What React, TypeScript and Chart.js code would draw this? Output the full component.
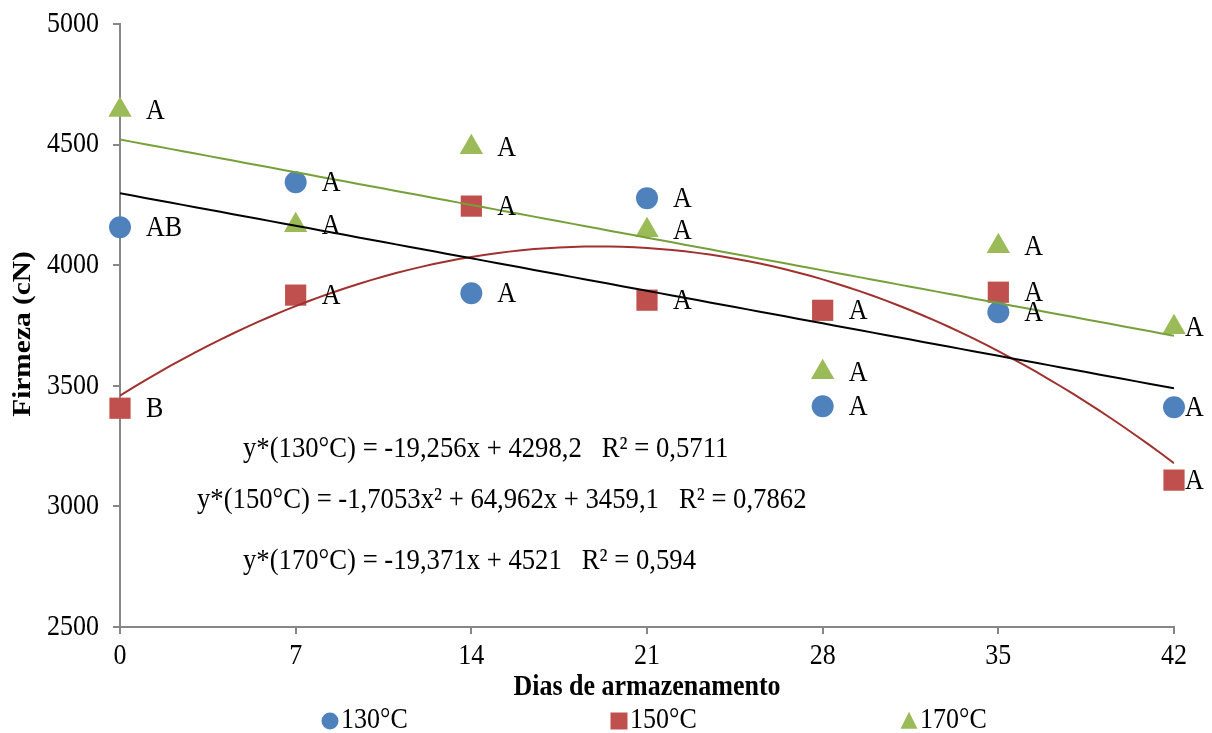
import React, { useEffect, useRef } from "react";
import { Chart, registerables } from "chart.js";

Chart.register(...registerables);

const days = [0, 7, 14, 21, 28, 35, 42];
const firm130 = [4157, 4344, 3884, 4278, 3415, 3805, 3411];
const firm150 = [3407, 3876, 4245, 3855, 3813, 3888, 3109];
const firm170 = [4643, 4166, 4489, 4145, 3556, 4079, 3743];
const letters130 = ["AB", "A", "A", "A", "A", "A", "A"];
const letters150 = ["B", "A", "A", "A", "A", "A", "A"];
const letters170 = ["A", "A", "A", "A", "A", "A", "A"];
const seriesNames = ["130°C", "150°C", "170°C"];
// trendline coefficients [c0, c1, c2]
const trend130 = [4298.2, -19.256, 0];
const trend150 = [3459.1, 64.962, -1.7053];
const trend170 = [4521, -19.371, 0];
const equations = [
  "y*(130°C) = -19,256x + 4298,2   R² = 0,5711",
  "y*(150°C) = -1,7053x² + 64,962x + 3459,1   R² = 0,7862",
  "y*(170°C) = -19,371x + 4521   R² = 0,594",
];
const xTitle = "Dias de armazenamento";
const yTitle = "Firmeza (cN)";

const BLUE = "#4F81BD";
const RED = "#C0504D";
const GREEN = "#9BBB59";
const AXIS = "#868686";
const FONT = "'Liberation Serif', 'Times New Roman', serif";
const FS = 26;
const STRETCH = 1.13;

function trendPoints(c: number[]) {
  const pts: { x: number; y: number }[] = [];
  for (let i = 0; i <= 84; i++) {
    const x = i / 2;
    pts.push({ x, y: c[0] + c[1] * x + c[2] * x * x });
  }
  return pts;
}

function txt(ctx: CanvasRenderingContext2D, s: string, x: number, y: number, align: CanvasTextAlign, bold = false, rotate = false, size = FS) {
  ctx.save();
  ctx.translate(x, y);
  if (rotate) {
    ctx.rotate(-Math.PI / 2);
    ctx.scale(STRETCH, 1);
  } else {
    ctx.scale(1, STRETCH);
  }
  ctx.font = `${bold ? "bold " : ""}${size}px ${FONT}`;
  ctx.textAlign = align;
  ctx.textBaseline = "middle";
  ctx.fillStyle = "#000";
  ctx.fillText(s, 0, 0);
  ctx.restore();
}

function drawMarker(ctx: CanvasRenderingContext2D, kind: string, x: number, y: number, s: number, color: string) {
  ctx.save();
  ctx.fillStyle = color;
  ctx.beginPath();
  if (kind === "circle") {
    ctx.arc(x, y, s / 2, 0, Math.PI * 2);
  } else if (kind === "rect") {
    ctx.rect(x - s / 2, y - s / 2, s, s);
  } else {
    ctx.moveTo(x, y - s * 0.55);
    ctx.lineTo(x + s / 2, y + s * 0.45);
    ctx.lineTo(x - s / 2, y + s * 0.45);
    ctx.closePath();
  }
  ctx.fill();
  ctx.restore();
}

const overlayPlugin = {
  id: "overlay",
  afterDraw(chart: any) {
    const ctx: CanvasRenderingContext2D = chart.ctx;
    const xs = chart.scales.x;
    const ys = chart.scales.y;
    const area = chart.chartArea;
    // tick labels
    xs.ticks.forEach((t: any) => {
      txt(ctx, String(t.value), xs.getPixelForValue(t.value), area.bottom + 29, "center");
    });
    ys.ticks.forEach((t: any) => {
      txt(ctx, String(t.value), area.left - 21, ys.getPixelForValue(t.value), "right");
    });
    // point letters
    const groups = [
      [firm130, letters130],
      [firm150, letters150],
      [firm170, letters170],
    ] as [number[], string[]][];
    groups.forEach(([vals, lets]) => {
      vals.forEach((v, i) => {
        const px = xs.getPixelForValue(days[i]);
        const py = ys.getPixelForValue(v);
        const off = i === days.length - 1 ? 11 : 26;
        txt(ctx, lets[i], px + off, py + 1, "left");
      });
    });
    // equations
    const eqPos = [
      [243, 449],
      [197, 500],
      [243, 561],
    ];
    equations.forEach((t, i) => {
      txt(ctx, t, eqPos[i][0], eqPos[i][1], "left", false, false, 26.7);
    });
    // axis titles
    txt(ctx, xTitle, (area.left + area.right) / 2, 687, "center", true);
    txt(ctx, yTitle, 23, 334, "center", true, true);
    // legend
    const legend = [
      ["circle", BLUE, 330],
      ["rect", RED, 619],
      ["triangle", GREEN, 909],
    ] as [string, string, number][];
    legend.forEach(([k, c, x], i) => {
      drawMarker(ctx, k, x, 721, 17, c);
      txt(ctx, seriesNames[i], x + 11, 720, "left");
    });
  },
};

export default function App() {
  const ref = useRef<HTMLCanvasElement | null>(null);
  useEffect(() => {
    if (!ref.current) return;
    const mk = (vals: number[]) => vals.map((v, i) => ({ x: days[i], y: v }));
    const chart = new Chart(ref.current, {
      type: "scatter",
      data: {
        datasets: [
          { label: "t130", type: "line", data: trendPoints(trend130), borderColor: "#000000", borderWidth: 2, pointRadius: 0, fill: false, order: 0 } as any,
          { label: "t150", type: "line", data: trendPoints(trend150), borderColor: "#A0312E", borderWidth: 2, pointRadius: 0, fill: false, order: 0 } as any,
          { label: "t170", type: "line", data: trendPoints(trend170), borderColor: "#76A03A", borderWidth: 2, pointRadius: 0, fill: false, order: 0 } as any,
          { label: seriesNames[0], data: mk(firm130), clip: false, pointStyle: "circle", pointRadius: 11, backgroundColor: BLUE, borderColor: BLUE, borderWidth: 0, order: 1 } as any,
          { label: seriesNames[1], data: mk(firm150), clip: false, pointStyle: "rect", pointRadius: 15, backgroundColor: RED, borderColor: RED, borderWidth: 0, order: 1 } as any,
          { label: seriesNames[2], data: mk(firm170), clip: false, pointStyle: "triangle", pointRadius: 13.5, backgroundColor: GREEN, borderColor: GREEN, borderWidth: 0, order: 1 } as any,
        ],
      },
      options: {
        animation: false,
        responsive: true,
        maintainAspectRatio: false,
        layout: { padding: { left: 0, right: 38, top: 24, bottom: 0 } },
        plugins: { legend: { display: false }, tooltip: { enabled: false } },
        scales: {
          x: {
            type: "linear",
            min: 0,
            max: 42,
            ticks: { stepSize: 7, display: false },
            grid: { drawOnChartArea: false, color: AXIS, tickLength: 7, lineWidth: 2 },
            border: { color: AXIS, width: 2 },
            afterFit: (s: any) => { s.height = 106; },
          },
          y: {
            min: 2500,
            max: 5000,
            ticks: { stepSize: 500, display: false },
            grid: { drawOnChartArea: false, color: AXIS, tickLength: 7, lineWidth: 2 },
            border: { color: AXIS, width: 2 },
            afterFit: (s: any) => { s.width = 120; },
          },
        },
      },
      plugins: [overlayPlugin],
    });
    return () => chart.destroy();
  }, []);
  return (
    <div style={{ position: "fixed", left: 0, top: 0, width: 1212, height: 733, background: "#fff" }}>
      <canvas ref={ref} />
    </div>
  );
}
